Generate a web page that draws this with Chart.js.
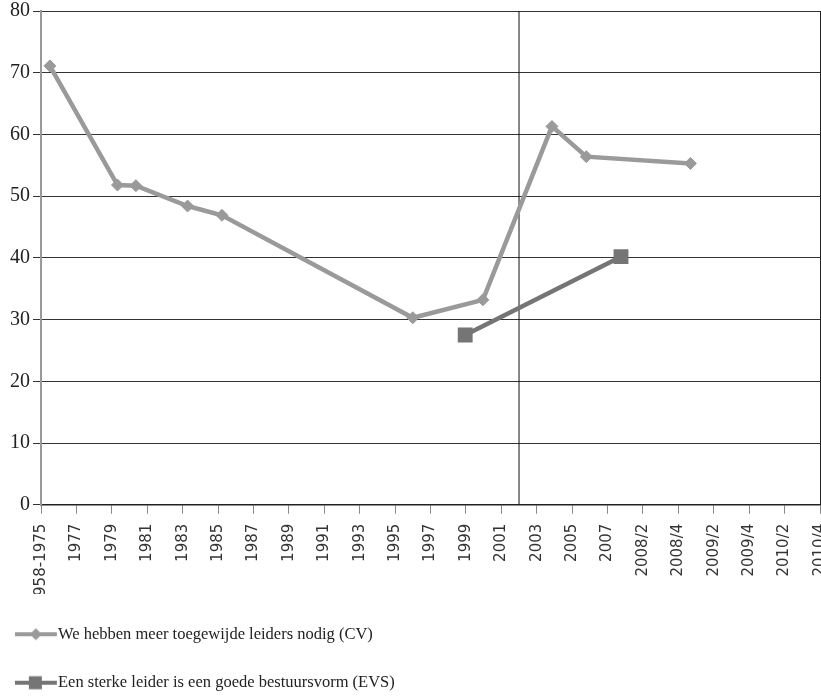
<!DOCTYPE html>
<html>
<head>
<meta charset="utf-8">
<script src="https://cdn.jsdelivr.net/npm/chart.js@4.4.1/dist/chart.umd.min.js"></script>
<style>
  html, body { margin: 0; padding: 0; background: #fff; overflow: hidden; }
  #wrap { position: relative; width: 821px; height: 698px; }
  canvas { display: block; }
</style>
</head>
<body>
<div id="wrap"><canvas id="chart"></canvas></div>
<script>
const categories = ['1958-1975', '1977', '1979', '1981', '1983', '1985', '1987', '1989', '1991', '1993', '1995',
  '1997', '1999', '2001', '2003', '2005', '2007', '2008/2', '2008/4', '2009/2', '2009/4', '2010/2', '2010/4'];

// positions along the category axis (index units) and values
const cvX = [0.25, 2.16, 2.68, 4.14, 5.11, 10.5, 12.48, 14.43, 15.4, 18.34];
const cvY = [71.1, 51.8, 51.7, 48.4, 46.9, 30.3, 33.2, 61.3, 56.4, 55.3];
const evsX = [11.98, 16.38];
const evsY = [27.5, 40.2];
const yTicks = [0, 10, 20, 30, 40, 50, 60, 70, 80];
const separatorX = 13.5;

const cvLabel = 'We hebben meer toegewijde leiders nodig (CV)';
const evsLabel = 'Een sterke leider is een goede bestuursvorm (EVS)';

const cvColor = '#9a9a9a';
const evsColor = '#757575';

// little line+marker picture for the legend
function legendSample(color, shape) {
  const c = document.createElement('canvas');
  c.width = 59; c.height = 18;
  const g = c.getContext('2d');
  g.strokeStyle = color;
  g.lineWidth = 4;
  g.beginPath(); g.moveTo(0, 9); g.lineTo(42, 9); g.stroke();
  g.fillStyle = color;
  if (shape === 'diamond') {
    g.beginPath();
    g.moveTo(21, 3); g.lineTo(27, 9); g.lineTo(21, 15); g.lineTo(15, 9); g.closePath(); g.fill();
  } else {
    g.fillRect(14, 2.5, 13, 13);
  }
  return c;
}
const samples = [legendSample(cvColor, 'diamond'), legendSample(evsColor, 'square')];

const ctx = document.getElementById('chart');

new Chart(ctx, {
  type: 'scatter',
  data: {
    datasets: [{
      label: cvLabel,
      data: cvX.map((x, i) => ({x: x, y: cvY[i]})),
      showLine: true,
      borderColor: cvColor,
      backgroundColor: cvColor,
      borderWidth: 4.5,
      pointStyle: 'rectRot',
      pointRadius: 6,
      pointBorderWidth: 1
    }, {
      label: evsLabel,
      data: evsX.map((x, i) => ({x: x, y: evsY[i]})),
      showLine: true,
      borderColor: evsColor,
      backgroundColor: evsColor,
      borderWidth: 4.5,
      pointStyle: 'rect',
      pointRadius: 10.5,
      pointBorderWidth: 0
    }, {
      label: 'sep',
      data: [{x: separatorX, y: 0}, {x: separatorX, y: 80}],
      showLine: true,
      borderColor: '#111',
      borderWidth: 1,
      pointRadius: 0
    }]
  },
  options: {
    responsive: true,
    maintainAspectRatio: false,
    animation: false,
    layout: { autoPadding: false, padding: { left: 7, top: 11, right: 1, bottom: -3 } },
    plugins: {
      tooltip: { enabled: false },
      legend: {
        position: 'bottom',
        align: 'start',
        labels: {
          font: { family: 'Liberation Serif', size: 16.5 },
          color: '#222',
          usePointStyle: true,
          pointStyleWidth: 10.75,
          padding: 32,
          filter: item => item.datasetIndex < 2,
          generateLabels: chart => {
            const items = Chart.defaults.plugins.legend.labels.generateLabels(chart);
            items.forEach(it => {
              if (it.datasetIndex < 2) it.pointStyle = samples[it.datasetIndex];
              // trailing blanks keep the two entries on separate rows
              if (it.datasetIndex === 1) it.text = it.text + '\u00a0'.repeat(40);
            });
            return items;
          }
        }
      }
    },
    scales: {
      x: {
        type: 'linear',
        min: 0,
        max: categories.length - 1,
        afterFit: s => { s.height -= 21.5; s.paddingRight = 0; s.paddingLeft = 0; },
        afterBuildTicks: s => { s.ticks = categories.map((c, i) => ({value: i})); },
        ticks: {
          autoSkip: false,
          minRotation: 90,
          maxRotation: 90,
          padding: 10,
          color: '#333',
          font: { family: 'DejaVu Sans', size: 15 },
          callback: v => categories[v]
        },
        grid: {
          drawOnChartArea: true,
          color: c => (c.tick && c.tick.value === categories.length - 1) ? '#222' : 'rgba(0,0,0,0)',
          tickColor: '#888',
          tickLength: 9,
          lineWidth: 1
        },
        border: { color: '#222', width: 1.5 }
      },
      y: {
        min: 0,
        max: 80,
        afterFit: s => { s.paddingTop = 0; s.paddingBottom = 0; },
        afterBuildTicks: s => { s.ticks = yTicks.map(v => ({value: v})); },
        ticks: {
          color: '#222',
          padding: 3,
          font: { family: 'Liberation Serif', size: 20 }
        },
        grid: {
          color: '#333',
          lineWidth: 1,
          tickLength: 8,
          tickColor: '#333'
        },
        border: { color: '#999', width: 2 }
      }
    }
  }
});
</script>
</body>
</html>
